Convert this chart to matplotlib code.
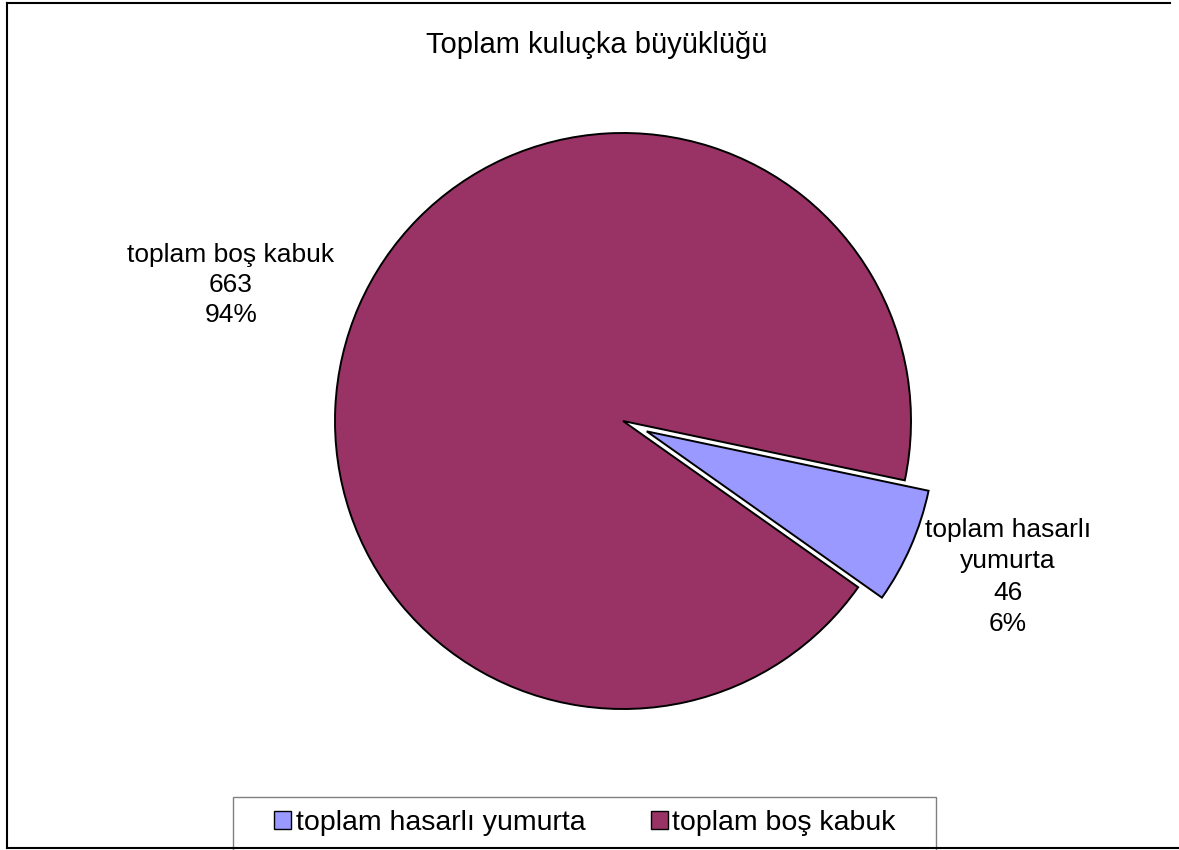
import matplotlib
matplotlib.use("Agg")
import matplotlib.pyplot as plt
from matplotlib.patches import Rectangle
from matplotlib.lines import Line2D

plt.rcParams['font.family'] = ['Liberation Sans', 'DejaVu Sans']

title = "Toplam kuluçka büyüklüğü"
categories = ["toplam hasarlı yumurta", "toplam boş kabuk"]
label_texts = ["toplam hasarlı\nyumurta", "toplam boş kabuk"]
values = [46, 663]
colors = ["#9999FF", "#993366"]
explode = [0.09, 0.0]

W, H = 1179, 850
fig = plt.figure(figsize=(W / 100, H / 100), dpi=100)
fig.patch.set_facecolor("white")

# pie geometry in pixels
cx, cy, R = 623, 421, 288
ax = fig.add_axes([0, 0, 1, 1])
wedges, _ = ax.pie(values, colors=colors, explode=explode, startangle=-11.9,
                   counterclock=False, radius=1.0,
                   wedgeprops=dict(edgecolor="black", linewidth=1.4))
ax.set_xlim(-cx / R, (W - cx) / R)
ax.set_ylim(-(H - cy) / R, cy / R)
ax.set_aspect('auto')
ax.axis('off')

total = sum(values)
pcts = [round(v / total * 100) for v in values]

# data labels
ax.text((1008 - cx) / R, (cy - 577) / R,
        f"{label_texts[0]}\n{values[0]}\n{pcts[0]}%",
        ha="center", va="center", fontsize=19, linespacing=1.38)
ax.text((231 - cx) / R, (cy - 285) / R,
        f"{label_texts[1]}\n{values[1]}\n{pcts[1]}%",
        ha="center", va="center", fontsize=19, linespacing=1.34)

# title
fig.text(597 / W, 1 - 45 / H, title, ha="center", va="center", fontsize=21)

# outer border (left, top, bottom)
fig.add_artist(Line2D([7 / W, 7 / W], [1 - 3 / H, 1 - 848 / H], transform=fig.transFigure,
                      color="black", linewidth=1.5))
fig.add_artist(Line2D([7 / W, 1170 / W], [1 - 3 / H, 1 - 3 / H], transform=fig.transFigure,
                      color="black", linewidth=1.5))
fig.add_artist(Line2D([7 / W, 1.0], [1 - 848 / H, 1 - 848 / H], transform=fig.transFigure,
                      color="black", linewidth=1.5))

# legend frame
fig.add_artist(Rectangle((233 / W, 1 - 852 / H), (936 - 233) / W, (852 - 797) / H,
                         transform=fig.transFigure, facecolor="white",
                         edgecolor="#808080", linewidth=1.0))

handles = [Rectangle((0, 0), 1, 1, facecolor=c, edgecolor="black", linewidth=1.0) for c in colors]
leg = fig.legend(handles, categories, loc="center", bbox_to_anchor=(585 / W, 1 - 823 / H),
                 ncol=2, frameon=False, fontsize=20.5, handlelength=0.6, handleheight=0.6,
                 handletextpad=0.15, columnspacing=2.3, borderpad=0.0, borderaxespad=0.0)

fig.savefig("out.png", dpi=100, facecolor="white")
